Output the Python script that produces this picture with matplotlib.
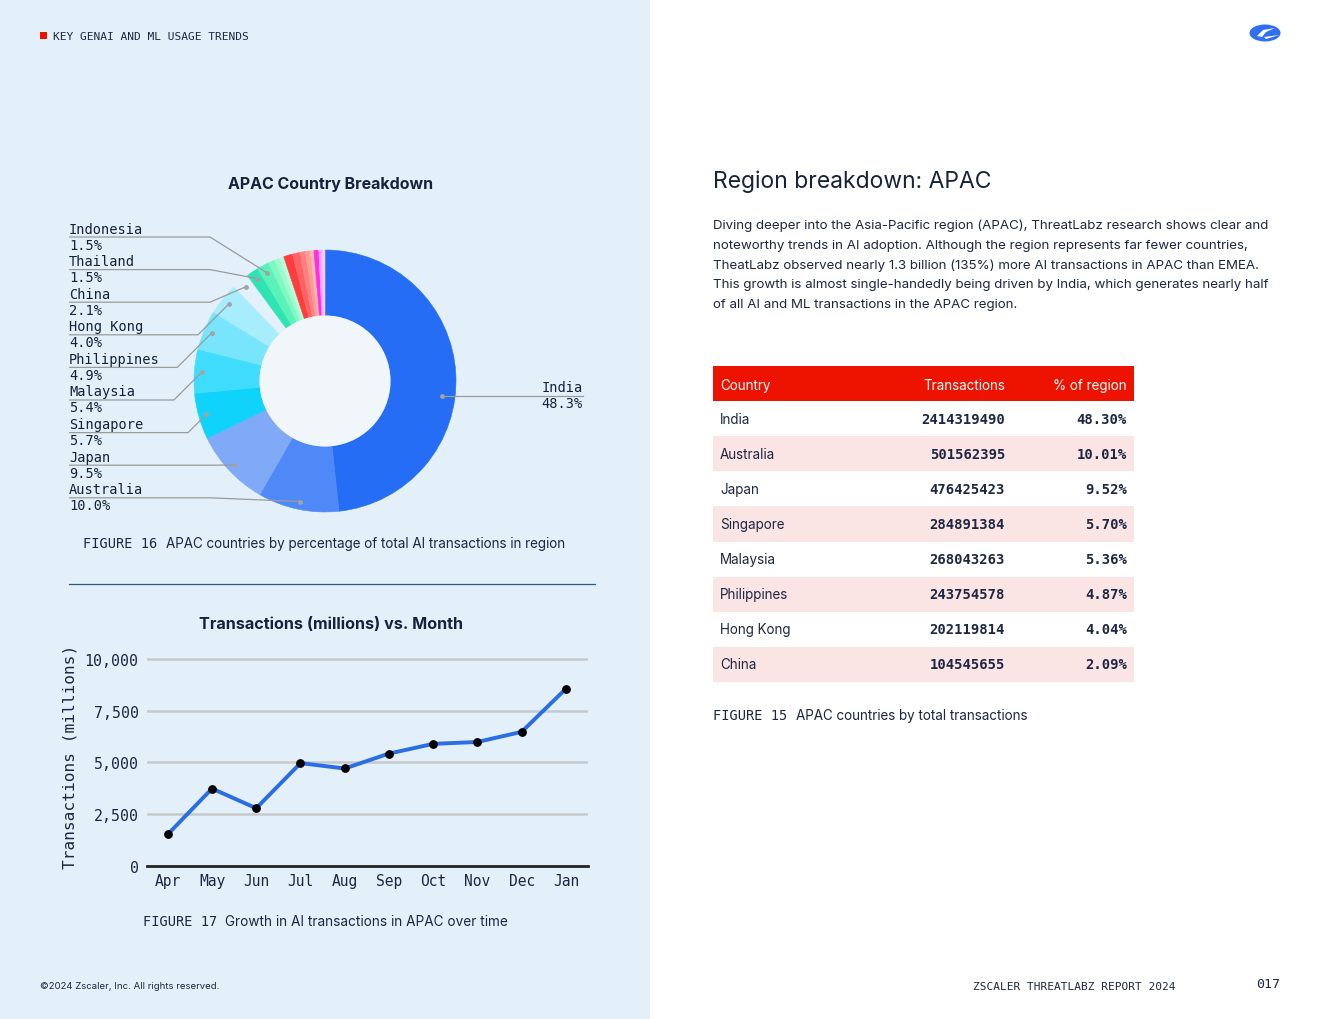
import matplotlib
matplotlib.use("Agg")
import matplotlib.pyplot as plt
import numpy as np
from matplotlib.patches import Rectangle, Circle, Ellipse, Polygon

W, H = 1320, 1020
MONO = "DejaVu Sans Mono"
SANS = ["Inter", "DejaVu Sans"]
NAVY = "#17213b"
TXT = "#1d2743"

# ---------------- data ----------------
pie_labels = ["India", "Australia", "Japan", "Singapore", "Malaysia", "Philippines",
              "Hong Kong", "China", "Thailand", "Indonesia",
              "", "", "", "", "", "", "", "", "", "", ""]
pie_values = [48.3, 10.0, 9.5, 5.7, 5.4, 4.9, 4.0, 2.1, 1.5, 1.5,
              0.8, 0.65, 0.55, 1.1, 0.9, 0.7, 0.6, 0.45, 0.6, 0.45, 0.3]
pie_colors = ["#266df5", "#4f89f8", "#80a9f8", "#10d3fc", "#40dcfc", "#78e5fd",
              "#a8edfd", "#e2f1fa", "#2fe4b4", "#5af2b6",
              "#7ef9c2", "#9dfbcf", "#b8fcdb", "#ff3d3d", "#ff6363", "#ff8080",
              "#ff9c94", "#ffbab2", "#ff2de4", "#ffa6fb", "#f7cdf7"]

months = ["Apr", "May", "Jun", "Jul", "Aug", "Sep", "Oct", "Nov", "Dec", "Jan"]
tx_millions = [1530, 3740, 2790, 4970, 4710, 5430, 5900, 5990, 6480, 8560]
y_ticks = [0, 2500, 5000, 7500, 10000]

table_countries = ["India", "Australia", "Japan", "Singapore", "Malaysia",
                   "Philippines", "Hong Kong", "China"]
table_transactions = [2414319490, 501562395, 476425423, 284891384, 268043263,
                      243754578, 202119814, 104545655]
table_pct = [48.30, 10.01, 9.52, 5.70, 5.36, 4.87, 4.04, 2.09]
table_header = ["Country", "Transactions", "% of region"]

paragraph = [
    "Diving deeper into the Asia-Pacific region (APAC), ThreatLabz research shows clear and",
    "noteworthy trends in AI adoption. Although the region represents far fewer countries,",
    "TheatLabz observed nearly 1.3 billion (135%) more AI transactions in APAC than EMEA.",
    "This growth is almost single-handedly being driven by India, which generates nearly half",
    "of all AI and ML transactions in the APAC region.",
]

# ---------------- figure ----------------
fig = plt.figure(figsize=(13.2, 10.2), dpi=100)
fig.patch.set_facecolor("white")


def fx(x):
    return x / W


def fy(y):
    return 1 - y / H


bg = fig.add_axes([0, 0, 1, 1], zorder=-10)
bg.set_xlim(0, W)
bg.set_ylim(H, 0)
bg.axis("off")
bg.add_patch(Rectangle((0, 0), 650, H, color="#e3f0fa", lw=0))

ov = fig.add_axes([0, 0, 1, 1], zorder=10)
ov.set_xlim(0, W)
ov.set_ylim(H, 0)
ov.axis("off")
ov.patch.set_alpha(0)

# header
ov.add_patch(Rectangle((40, 33), 7, 7, color="#ee1100", lw=0))
ov.text(53, 36.5, "KEY GENAI AND ML USAGE TRENDS", family=MONO, fontsize=8.1,
        color=TXT, va="center", ha="left")

# logo
ov.add_patch(Ellipse((1265, 34), 31, 17, color="#2f6ff0", lw=0))
ov.add_patch(Polygon([[1257, 37], [1263, 31], [1275, 29], [1266, 33], [1262, 38]],
                     color="white", lw=0))
ov.add_patch(Polygon([[1264, 38], [1279, 36], [1266, 40]], color="white", lw=0))

# ---------------- pie ----------------
ov.text(331, 184, "APAC Country Breakdown", family=SANS, fontsize=11.5, weight="bold",
        color=NAVY, ha="center", va="center")

ax_pie = fig.add_axes([fx(194), fy(513), 262 / W, 262 / H])
wedges, _ = ax_pie.pie(pie_values, colors=pie_colors, startangle=90, counterclock=False,
                       radius=1.0, wedgeprops=dict(width=0.5, linewidth=0.4))
for w in wedges:
    w.set_edgecolor(w.get_facecolor())
ax_pie.add_patch(Circle((0, 0), 0.5, color="#f0f6fa", lw=0))
ax_pie.set_xlim(-1, 1)
ax_pie.set_ylim(-1, 1)
ax_pie.axis("off")


def pie_to_ov(x, y):
    d = ax_pie.transData.transform((x, y))
    return ov.transData.inverted().transform(d)


total = sum(pie_values)
cum = np.cumsum([0] + pie_values)
LINE_C = "#9b9b9b"
r_dot = 0.94
LFS = 9.8

# left-hand labels (Indonesia at top ... Australia at bottom)
left_idx = list(range(9, 0, -1))
for k, i in enumerate(left_idx):
    mid = (cum[i] + cum[i + 1]) / 2 / total
    ang = np.deg2rad(90 - mid * 360)
    dx, dy = pie_to_ov(r_dot * np.cos(ang), r_dot * np.sin(ang))
    ly = 238 + k * 32.6
    elbow = min(210, dx - abs(dy - ly) * 1.0)
    ov.plot([69, elbow, dx], [ly, ly, dy], color=LINE_C, lw=0.9, solid_capstyle="butt")
    ov.plot([dx], [dy], "o", color="#a3a3a3", ms=3.5, mec="none")
    ov.text(69, ly - 8.5, pie_labels[i], family=MONO, fontsize=LFS, color=NAVY,
            ha="left", va="center")
    ov.text(69, ly + 7.5, f"{pie_values[i]:.1f}%", family=MONO, fontsize=LFS,
            color=NAVY, ha="left", va="center")

# India label on the right
ly = 397
yy_data = pie_to_ov(0, 0)[1] - ly
y_d = yy_data / 131.0
x_d = np.sqrt(0.9 ** 2 - y_d ** 2)
dx, dy = pie_to_ov(x_d, y_d)
ov.plot([dx, 583], [ly, ly], color=LINE_C, lw=0.9)
ov.plot([dx], [dy], "o", color="#a3a3a3", ms=3.5, mec="none")
ov.text(583, ly - 9, pie_labels[0], family=MONO, fontsize=LFS, color=NAVY,
        ha="right", va="center")
ov.text(583, ly + 7.5, f"{pie_values[0]:.1f}%", family=MONO, fontsize=LFS,
        color=NAVY, ha="right", va="center")

ov.text(83, 544.5, "FIGURE 16", family=MONO, fontsize=9.8, color=TXT, va="center")
ov.text(166, 544.5, "APAC countries by percentage of total AI transactions in region",
        family=SANS, fontsize=9.7, color=TXT, va="center")

ov.plot([69, 595], [585, 585], color="#2a5a8a", lw=0.9)

# ---------------- line chart ----------------
ov.text(331, 624.5, "Transactions (millions) vs. Month", family=SANS, fontsize=11.6,
        weight="bold", color=NAVY, ha="center", va="center")

ax_l = fig.add_axes([fx(147), fy(867), 441 / W, 212.2 / H])
ax_l.set_facecolor("none")
x = np.arange(len(months))
ax_l.plot(x, tx_millions, color="#2b6de4", lw=2.8, zorder=3)
ax_l.plot(x, tx_millions, "o", color="black", ms=5.3, zorder=4)
ax_l.set_xlim(-0.47, 9.5)
ax_l.set_ylim(0, 10250)
ax_l.set_yticks(y_ticks)
ax_l.set_yticklabels([f"{v:,}" for v in y_ticks], family=MONO, fontsize=10.7, color=TXT)
ax_l.set_xticks(x)
ax_l.set_xticklabels(months, family=MONO, fontsize=10.5, color=TXT)
ax_l.tick_params(length=0, pad=5)
ax_l.tick_params(axis="y", pad=6)
for s in ["top", "right", "left"]:
    ax_l.spines[s].set_visible(False)
ax_l.spines["bottom"].set_color("#222222")
ax_l.spines["bottom"].set_linewidth(2)
ax_l.spines["bottom"].set_zorder(5)
for v in y_ticks[1:]:
    ax_l.axhline(v, color="#c6c9cc", lw=1.8, zorder=1)
ax_l.set_ylabel("Transactions (millions)", family=MONO, fontsize=11.6, color=TXT)
ax_l.yaxis.set_label_coords(-0.158, 0.52)

ov.text(143, 922, "FIGURE 17", family=MONO, fontsize=9.8, color=TXT, va="center")
ov.text(225, 922, "Growth in AI transactions in APAC over time",
        family=SANS, fontsize=9.8, color=TXT, va="center")

# ---------------- right side ----------------
ov.text(713, 182, "Region breakdown: APAC", family=SANS, fontsize=16.5, color=NAVY,
        va="center", ha="left")
for k, line in enumerate(paragraph):
    ov.text(713, 225.5 + 20 * k, line, family=SANS, fontsize=9.6, color=TXT,
            va="center", ha="left")

ax_t = fig.add_axes([fx(713), fy(683), 421 / W, 316 / H])
ax_t.set_xlim(0, 1)
ax_t.set_ylim(len(table_countries) + 1, 0)
ax_t.axis("off")
ax_t.axhspan(0, 1, color="#ee1200", lw=0)
cx, tx, px = 0.0166, 0.6936, 0.983
TFS = 9.7
ax_t.text(cx, 0.55, table_header[0], family=SANS, fontsize=TFS, color="white",
          va="center", ha="left")
ax_t.text(tx, 0.55, table_header[1], family=SANS, fontsize=TFS, color="white",
          va="center", ha="right")
ax_t.text(px, 0.55, table_header[2], family=SANS, fontsize=TFS, color="white",
          va="center", ha="right")
for r, (c, t, p) in enumerate(zip(table_countries, table_transactions, table_pct)):
    row = r + 1
    ax_t.axhspan(row, row + 1, color="#fbe5e4" if r % 2 == 1 else "white", lw=0)
    ax_t.text(cx, row + 0.5, c, family=SANS, fontsize=TFS, color=TXT, va="center", ha="left")
    ax_t.text(tx, row + 0.5, f"{t}", family=MONO, fontsize=10, weight="bold",
              color=TXT, va="center", ha="right")
    ax_t.text(px, row + 0.5, f"{p:.2f}%", family=MONO, fontsize=10, weight="bold",
              color=TXT, va="center", ha="right")

ov.text(713, 716.5, "FIGURE 15", family=MONO, fontsize=9.8, color=TXT, va="center")
ov.text(796, 716.5, "APAC countries by total transactions",
        family=SANS, fontsize=9.7, color=TXT, va="center")

# ---------------- footer ----------------
ov.text(40, 987, "\u00a92024 Zscaler, Inc. All rights reserved.", family=SANS,
        fontsize=6.9, color=TXT, va="center", ha="left")
ov.text(973, 987, "ZSCALER THREATLABZ REPORT 2024", family=MONO, fontsize=8.0,
        color=TXT, va="center", ha="left")
ov.text(1256, 985, "017", family=MONO, fontsize=9.5, color=TXT, va="center", ha="left")

fig.savefig("out.png", dpi=100)
